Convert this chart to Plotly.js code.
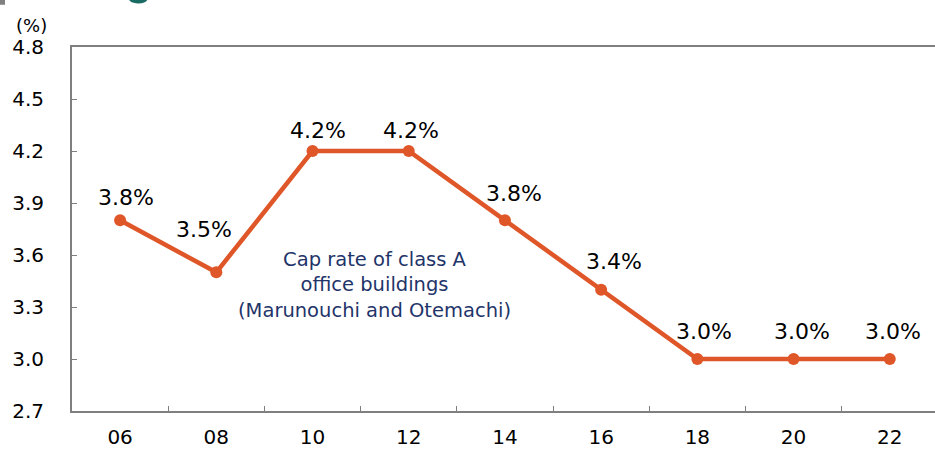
<!DOCTYPE html>
<html>
<head>
<meta charset="utf-8">
<script src="https://cdn.plot.ly/plotly-3.0.1.min.js"></script>
<style>
  html, body { margin: 0; padding: 0; background: #fff; }
  #chart { width: 935px; height: 449px; }
</style>
</head>
<body>
<div id="chart"></div>
<script>
// Cap rate, class A office buildings (Marunouchi and Otemachi)
const years = ['06', '08', '10', '12', '14', '16', '18', '20', '22'];
const capRate = [3.8, 3.5, 4.2, 4.2, 3.8, 3.4, 3.0, 3.0, 3.0];
const yTicks = [2.7, 3.0, 3.3, 3.6, 3.9, 4.2, 4.5, 4.8];

// hand-placed label nudges in px [right, up], as in the source chart
const labelNudge = [[6, 23], [-12, 43], [5, 21], [2, 21], [9, 27], [13, 28], [7, 28], [8, 28], [3, 28]];

const font = 'DejaVu Sans, Verdana, sans-serif';
const axisGrey = '#7f7f7f';
const lineColor = '#df5628';

const traces = [{
    x: years,
    y: capRate,
    type: 'scatter',
    mode: 'lines+markers',
    line: { color: lineColor, width: 4.5 },
    marker: { color: lineColor, size: 12 },
    cliponaxis: false,
    hoverinfo: 'skip'
}];

// value labels; category position given by index ('06' etc. would be read as numbers)
const valueLabels = years.map((yr, i) => ({
    text: capRate[i].toFixed(1) + '%',
    x: i,
    y: capRate[i],
    xref: 'x', yref: 'y',
    xanchor: 'center', yanchor: 'middle',
    xshift: labelNudge[i][0],
    yshift: labelNudge[i][1],
    showarrow: false,
    font: { family: font, size: 22, color: '#000' }
}));

const layout = {
    width: 935,
    height: 449,
    margin: { l: 72, r: 0, t: 47, b: 38 },
    paper_bgcolor: '#fff',
    plot_bgcolor: '#fff',
    showlegend: false,
    font: { family: font, size: 20, color: '#000' },
    xaxis: {
        type: 'category',
        range: [-0.5, 8.47],
        showgrid: false,
        zeroline: false,
        showline: true,
        mirror: true,
        linecolor: axisGrey,
        linewidth: 2,
        ticks: 'inside',
        tickson: 'boundaries',
        ticklen: 5,
        tickcolor: axisGrey,
        tickwidth: 1,
        ticklabelstandoff: 7,
        tickfont: { family: font, size: 20, color: '#000' }
    },
    yaxis: {
        range: [2.7, 4.8],
        tickvals: yTicks,
        ticktext: yTicks.map(v => v.toFixed(1)),
        showgrid: false,
        zeroline: false,
        showline: true,
        linecolor: axisGrey,
        linewidth: 2,
        ticks: 'inside',
        ticklen: 5,
        tickcolor: axisGrey,
        tickwidth: 1,
        ticklabelstandoff: 22,
        tickfont: { family: font, size: 20, color: '#000' }
    },
    annotations: valueLabels.concat([
        {
            text: '(%)',
            xref: 'paper', yref: 'paper',
            x: -0.047, y: 1.0,
            xanchor: 'center', yanchor: 'bottom',
            yshift: 9,
            showarrow: false,
            font: { family: font, size: 18, color: '#000' }
        },
        {
            text: 'Cap rate of class A<br>office buildings<br>(Marunouchi and Otemachi)',
            xref: 'paper', yref: 'paper',
            x: 0.351, y: 0.346,
            xanchor: 'center', yanchor: 'middle',
            showarrow: false,
            align: 'center',
            font: { family: font, size: 19.5, color: '#1f3469' }
        }
    ]),
    shapes: [
        {
            type: 'rect', xref: 'paper', yref: 'paper',
            x0: -0.0834, x1: -0.0776, y0: 1.116, y1: 1.13,
            fillcolor: '#808080', line: { width: 0 }
        },
        {
            // bottom of the cut-off heading glyph
            type: 'path', xref: 'paper', yref: 'paper',
            path: 'M 0.066 1.13 L 0.0875 1.13 Q 0.085 1.118 0.074 1.12 Q 0.068 1.122 0.066 1.13 Z',
            fillcolor: '#1a6b63', line: { width: 0 }
        }
    ]
};

Plotly.newPlot('chart', traces, layout, { displayModeBar: false, staticPlot: true });
</script>
</body>
</html>
